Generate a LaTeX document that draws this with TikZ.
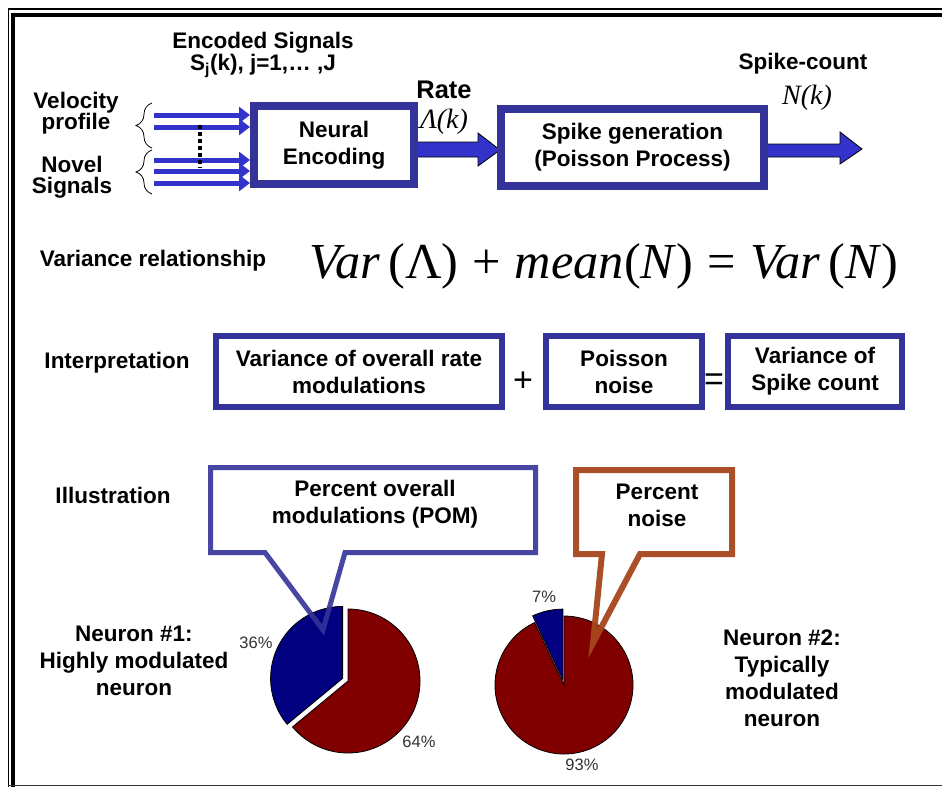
\documentclass[tikz,border=0pt]{standalone}
\usepackage{fontspec}
\setmainfont{Liberation Sans}
\newfontfamily\tms{Liberation Serif}
\usetikzlibrary{arrows.meta,decorations.pathreplacing,calc}
\definecolor{boxblue}{RGB}{51,51,153}
\definecolor{arrowblue}{RGB}{51,51,204}
\definecolor{piered}{RGB}{128,0,0}
\definecolor{pieblue}{RGB}{0,0,128}
\definecolor{callbrown}{RGB}{166,70,28}
\tikzset{
  lbl/.style={font=\fontsize{22.5}{27}\selectfont\bfseries, align=center, inner sep=0pt},
  tightlbl/.style={font=\fontsize{22.5}{21.5}\selectfont\bfseries, align=center, inner sep=0pt},
  mathlbl/.style={font=\tms\itshape\fontsize{28}{32}\selectfont, inner sep=0pt},
  pct/.style={font=\fontsize{16.5}{18}\selectfont, text=black!80, inner sep=0pt},
  bigbox/.style={draw=boxblue, line width=8pt, fill=white, inner sep=0pt, align=center, font=\fontsize{22.5}{27}\selectfont\bfseries},
  intbox/.style={draw=boxblue, line width=6pt, fill=white, inner sep=0pt, align=center, font=\fontsize{22.5}{27}\selectfont\bfseries},
  opsym/.style={font=\fontsize{34}{36}\selectfont, inner sep=0pt},
  blockarrow/.style={fill=arrowblue, draw=black, line width=0.8pt, line join=miter},
  inarrow/.style={draw=arrowblue, line width=5pt, -{Triangle[length=11pt,width=16pt]}},
  bracestyle/.style={draw=black, line width=0.8pt, decorate, decoration={brace, amplitude=16pt}},
  pieslice/.style={draw=black, line width=0.8pt},
  calloutblue/.style={draw=boxblue, line width=5pt, line join=miter, draw opacity=0.9},
  calloutbrown/.style={draw=callbrown, line width=6pt, line join=miter, draw opacity=0.95},
}
\begin{document}
\begin{tikzpicture}[x=1pt,y=1pt]
\useasboundingbox (0,0) rectangle (942,-787);
\fill[white] (0,0) rectangle (942,-787);
% frame
\draw[line width=1.5pt] (8.5,-787) -- (8.5,-9) -- (942,-9);
\draw[line width=4pt] (13,-787) -- (13,-14.5) -- (942,-14.5);
\draw[line width=1.5pt, black!80] (8,-785.5) -- (942,-785.5);

% top row labels
\node[lbl] (enc) at (263,-43) {Encoded Signals};
\node[lbl] (sj) at (263,-66) {S\textsubscript{j}(k), j=1,… ,J};
\node[tightlbl] (vel) at (76,-113) {Velocity\\profile};
\node[tightlbl] (nov) at (72,-177) {Novel\\Signals};

% block arrows (drawn before boxes)
\draw[blockarrow] (416,-142) -- (478,-142) -- (478,-133) -- (500,-150) -- (478,-166) -- (478,-157) -- (416,-157) -- cycle;
\draw[blockarrow] (766,-144) -- (840,-144) -- (840,-132) -- (862,-149) -- (840,-164) -- (840,-157) -- (766,-157) -- cycle;

% boxes
\node[bigbox, minimum width=160pt, minimum height=78pt] (ne) at (334,-145) {Neural\\Encoding};
\node[bigbox, minimum width=263pt, minimum height=77pt] (sg) at (632.5,-147.5) {Spike generation\\(Poisson Process)};

% input lines
\foreach \yy in {115,127,160,171,183}{
  \draw[inarrow] (154,-\yy) -- (ne.west |- 154,-\yy);
}
\draw[line width=3.5pt, dash pattern=on 3.5pt off 3.5pt] (200,-125) -- (200,-168);
\draw[bracestyle] (152,-148) -- (152,-103);
\draw[bracestyle] (152,-194) -- (152,-150);

\node[font=\fontsize{25.5}{28}\selectfont\bfseries, inner sep=0pt] (rate) at (444,-90) {Rate};
\node[mathlbl] (lam) at (444,-122) {Λ(k)};
\node[lbl] (sc) at (803,-64) {Spike-count};
\node[mathlbl] (nk) at (807,-98) {N(k)};

% variance relationship
\node[lbl] (vr) at (153,-261) {Variance relationship};
\node[inner sep=0pt, font=\tms\fontsize{50}{56}\selectfont] (eq) at (604,-266) {\resizebox{588pt}{!}{\textit{Var}\,(Λ)\;+\;\textit{mean}(\textit{N})\;=\;\textit{Var}\,(\textit{N})}};

% interpretation
\node[lbl] (int) at (117,-363) {Interpretation};
\node[intbox, minimum width=286pt, minimum height=71pt] (b1) at (359,-371.5) {Variance of overall rate\\modulations};
\node[intbox, minimum width=156pt, minimum height=71pt] (b2) at (624,-371.5) {Poisson\\noise};
\node[intbox, minimum width=174pt, minimum height=71pt] (b3) at (815,-371.5) {Variance of\\Spike count};
\node[opsym] (plus) at (523,-382) {+};
\node[opsym] (eqs) at (714,-382) {=};

% illustration
\node[lbl] (ill) at (113,-495) {Illustration};
\node[lbl] (n1) at (134,-661) {Neuron \#1:\\Highly modulated\\neuron};
\node[lbl] (n2) at (782,-678) {Neuron \#2:\\Typically\\modulated\\neuron};

% pie 1
\filldraw[pieslice, fill=piered] (348,-681) -- ++(90:72) arc[start angle=90, end angle=-140.4, radius=72] -- cycle;
\filldraw[pieslice, fill=pieblue] (342.6,-678.4) -- ++(90:72) arc[start angle=90, end angle=219.6, radius=72] -- cycle;
% pie 2
\filldraw[pieslice, fill=piered] (564,-685) -- ++(115.2:69) arc[start angle=115.2, end angle=450, radius=69] -- cycle;
\filldraw[pieslice, fill=pieblue] (562.9,-680.1) -- ++(90:71) arc[start angle=90, end angle=115.2, radius=71] -- cycle;

\node[pct] (p36) at (256,-643) {36\%};
\node[pct] (p64) at (419,-742) {64\%};
\node[pct] (p7) at (544,-597) {7\%};
\node[pct] (p93) at (582,-765) {93\%};

% callouts
\draw[calloutblue] (210.5,-467.5) -- (535.5,-467.5) -- (535.5,-552.5) -- (345,-552.5) -- (323,-630) -- (265,-552.5) -- (210.5,-552.5) -- cycle;
\node[lbl] (pom) at (375,-504) {Percent overall\\modulations (POM)};
\draw[calloutbrown] (576,-470) -- (732,-470) -- (732,-554) -- (640,-554) -- (593,-643) -- (602,-554) -- (576,-554) -- cycle;
\node[lbl] (pn) at (657,-505) {Percent\\noise};
\end{tikzpicture}
\end{document}
